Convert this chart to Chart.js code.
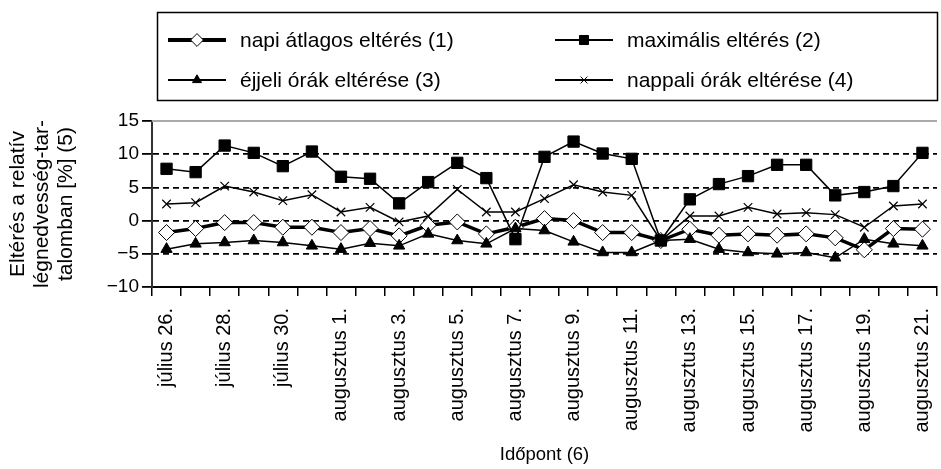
<!DOCTYPE html>
<html><head><meta charset="utf-8">
<script src="https://cdn.jsdelivr.net/npm/chart.js@4"></script>
<style>html,body{margin:0;padding:0;background:#fff;overflow:hidden}#wrap{width:941px;height:469px;position:relative;overflow:hidden}</style>
</head><body><div id="wrap"><canvas id="c" width="946" height="469"></canvas></div>
<script>
const categories = ["július 26.","július 27.","július 28.","július 29.","július 30.","július 31.",
"augusztus 1.","augusztus 2.","augusztus 3.","augusztus 4.","augusztus 5.","augusztus 6.","augusztus 7.",
"augusztus 8.","augusztus 9.","augusztus 10.","augusztus 11.","augusztus 12.","augusztus 13.","augusztus 14.",
"augusztus 15.","augusztus 16.","augusztus 17.","augusztus 18.","augusztus 19.","augusztus 20.","augusztus 21."];
const napiAtlagos = [-1.8,-1.2,-0.3,-0.3,-1.0,-1.0,-1.8,-1.2,-2.3,-0.7,-0.2,-2.0,-1.0,0.3,0.0,-1.8,-1.8,-3.0,-1.3,-2.2,-2.0,-2.2,-2.0,-2.6,-4.4,-1.2,-1.3];
const maximalis = [7.8,7.3,11.3,10.2,8.2,10.4,6.6,6.3,2.6,5.8,8.7,6.4,-2.8,9.6,11.9,10.1,9.3,-3.0,3.2,5.5,6.7,8.4,8.4,3.8,4.3,5.2,10.2];
const ejjeli = [-4.3,-3.5,-3.3,-3.0,-3.3,-3.8,-4.3,-3.4,-3.8,-2.0,-3.0,-3.5,-1.2,-1.5,-3.2,-4.8,-4.8,-3.0,-2.8,-4.3,-4.8,-5.0,-4.8,-5.6,-2.8,-3.5,-3.8];
const nappali = [2.5,2.7,5.2,4.3,3.0,3.9,1.3,2.0,-0.2,0.7,4.7,1.3,1.3,3.3,5.4,4.3,3.8,-3.0,0.7,0.7,2.0,1.0,1.2,0.9,-1.0,2.2,2.5];
const seriesNames = ["napi átlagos eltérés (1)","maximális eltérés (2)","éjjeli órák eltérése (3)","nappali órák eltérése (4)"];
const yTicks = [-10,-5,0,5,10,15];
const xTitle = "Időpont (6)";
const yTitle = ["Eltérés a relatív","légnedvesség-tar-","talomban [%] (5)"];

const FONT = "'Liberation Sans', Arial, sans-serif";

const legendPlugin = {
  id: 'boxLegend',
  afterDraw(chart) {
    const ctx = chart.ctx;
    ctx.save();
    ctx.strokeStyle = '#000'; ctx.lineWidth = 1.5;
    ctx.strokeRect(157.5, 12.5, 780, 88);
    const pos = [[168, 40],[555, 40],[168, 80],[555, 80]];
    chart.data.datasets.forEach((ds, i) => {
      const [x, y] = pos[i];
      ctx.strokeStyle = '#000'; ctx.lineWidth = ds.borderWidth + 0.5; ctx.setLineDash([]);
      ctx.beginPath(); ctx.moveTo(x, y); ctx.lineTo(x + 58, y); ctx.stroke();
      ctx.fillStyle = ds.pointBackgroundColor; ctx.strokeStyle = '#000'; ctx.lineWidth = 1;
      Chart.helpers.drawPoint(ctx, {pointStyle: ds.pointStyle, radius: ds.pointRadius * 0.8, borderWidth: 1, rotation: 0}, x + 29, y);
      ctx.fillStyle = '#000'; ctx.font = '21px ' + FONT; ctx.textBaseline = 'middle'; ctx.textAlign = 'left';
      ctx.fillText(ds.label, x + 72, y + 1);
    });
    const a = chart.chartArea;
    ctx.strokeStyle = '#aaa'; ctx.lineWidth = 2;
    ctx.beginPath(); ctx.moveTo(a.left, a.top); ctx.lineTo(a.right, a.top); ctx.stroke();
    ctx.restore();
  }
};

new Chart(document.getElementById('c'), {
  type: 'line',
  data: {
    labels: categories,
    datasets: [
      {label: seriesNames[0], data: napiAtlagos, borderColor: '#000', borderWidth: 3.5, pointStyle: 'rectRot', pointRadius: 8, pointBackgroundColor: '#fff', pointBorderColor: '#000', pointBorderWidth: 1, tension: 0, order: 3},
      {label: seriesNames[1], data: maximalis, borderColor: '#000', borderWidth: 1.5, pointStyle: 'rect', pointRadius: 8, pointBackgroundColor: '#000', pointBorderColor: '#000', pointBorderWidth: 1, tension: 0, order: 1},
      {label: seriesNames[2], data: ejjeli, borderColor: '#000', borderWidth: 1.5, pointStyle: 'triangle', pointRadius: 6.5, pointBackgroundColor: '#000', pointBorderColor: '#000', pointBorderWidth: 1, tension: 0, order: 2},
      {label: seriesNames[3], data: nappali, borderColor: '#000', borderWidth: 1.5, pointStyle: 'crossRot', pointRadius: 6, pointBackgroundColor: '#000', pointBorderColor: '#000', pointBorderWidth: 1.2, tension: 0, order: 0}
    ]
  },
  options: {
    responsive: false, animation: false,
    layout: {padding: {top: 121, right: 0, left: 0, bottom: 0}},
    plugins: {legend: {display: false}, tooltip: {enabled: false}},
    scales: {
      x: {
        offset: true,
        grid: {offset: true, drawOnChartArea: false, drawTicks: true, tickLength: 9, color: '#000', lineWidth: 1.5},
        border: {display: true, color: '#000', width: 2},
        ticks: {autoSkip: false, maxRotation: 90, minRotation: 90, padding: 12, color: '#000', font: {family: FONT, size: 20},
          callback: function(v, i) { return i % 2 === 0 ? this.getLabelForValue(v) : ''; }},
        title: {display: true, text: xTitle, color: '#000', font: {family: FONT, size: 18.5, lineHeight: 1.2}, padding: {top: 0, bottom: 3}},
        afterFit(s) { s.height = 182; s.paddingRight = 0; s.paddingLeft = 0; }
      },
      y: {
        min: -10, max: 15,
        afterBuildTicks(s) { s.ticks = yTicks.map(v => ({value: v})); },
        grid: {drawTicks: true, tickLength: 10, tickColor: '#000', lineWidth: 1.8,
          color: c => (c.tick && (c.tick.value === 15 || c.tick.value === -10)) ? 'rgba(0,0,0,0)' : '#000'},
        border: {display: true, color: '#333', width: 2, dash: [6, 4]},
        ticks: {padding: 3, color: '#000', font: {family: FONT, size: 19},
          callback: v => (v < 0 ? '\u2212' + Math.abs(v) : String(v))},
        title: {display: true, text: yTitle, color: '#000', font: {family: FONT, size: 21, lineHeight: 1.15}, padding: {top: 6, bottom: 0}},
        afterFit(s) { s.width = 152; }
      }
    }
  },
  plugins: [legendPlugin]
});
</script></body></html>
